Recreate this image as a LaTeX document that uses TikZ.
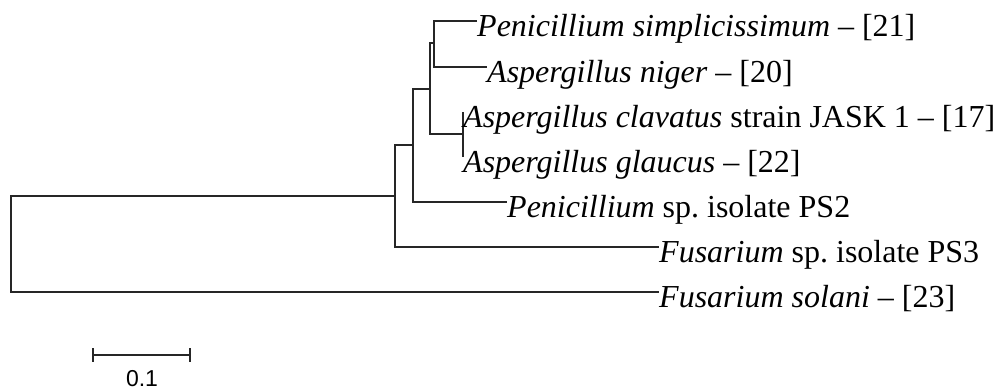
\documentclass[tikz,border=0pt]{standalone}
\usepackage{fontspec}
\setmainfont{Liberation Serif}
\newfontfamily\arialf{Liberation Sans}
\begin{document}
\begin{tikzpicture}[x=1pt,y=-1pt,
  branch/.style={draw=black!85,line width=1.2pt},
  taxon/.style={anchor=base west,inner sep=0pt,font=\fontsize{32}{38}\selectfont},
  scalelbl/.style={anchor=base,inner sep=0pt,font=\arialf\fontsize{23}{27}\selectfont}]
\useasboundingbox (0,0) rectangle (1000,391);
% leaf tips
\coordinate (tPS) at (477,21);
\coordinate (tAN) at (487,67);
\coordinate (tAC) at (463,112);
\coordinate (tAG) at (463,157);
\coordinate (tP2) at (507,202);
\coordinate (tP3) at (659,247);
\coordinate (tFS) at (659,292);
% internal nodes
\coordinate (d) at (434,43);
\coordinate (e) at (463,134);
\coordinate (c) at (430,89);
\coordinate (b) at (413,145);
\coordinate (a) at (395,196);
\coordinate (root) at (11,244);
% branches
\draw[branch] (tPS) -| (d) |- (tAN);
\draw[branch] (tAC) -- (e) -- (tAG);
\draw[branch] (d) -| (c) |- (e);
\draw[branch] (c) -| (b) |- (tP2);
\draw[branch] (b) -| (a) |- (tP3);
\draw[branch] (a) -| (root) |- (tFS);
% labels
\node[taxon] (nPS) at ([yshift=-15pt]tPS) {\textit{Penicillium simplicissimum} -- [21]};
\node[taxon] (nAN) at ([yshift=-15pt]tAN) {\textit{Aspergillus niger} -- [20]};
\node[taxon] (nAC) at ([yshift=-15pt]tAC) {\textit{Aspergillus clavatus} strain JASK 1 -- [17]};
\node[taxon] (nAG) at ([yshift=-15pt]tAG) {\textit{Aspergillus glaucus} -- [22]};
\node[taxon] (nP2) at ([yshift=-15pt]tP2) {\textit{Penicillium} sp.\ isolate PS2};
\node[taxon] (nP3) at ([yshift=-15pt]tP3) {\textit{Fusarium} sp.\ isolate PS3};
\node[taxon] (nFS) at ([yshift=-15pt]tFS) {\textit{Fusarium solani} -- [23]};
% scale bar
\coordinate (s1) at (93,355);
\coordinate (s2) at (190,355);
\draw[branch] (s1) -- (s2);
\draw[branch] ([yshift=7pt]s1) -- ([yshift=-7pt]s1);
\draw[branch] ([yshift=7pt]s2) -- ([yshift=-7pt]s2);
\node[scalelbl] (sl) at (142,386) {0.1};
\end{tikzpicture}
\end{document}
